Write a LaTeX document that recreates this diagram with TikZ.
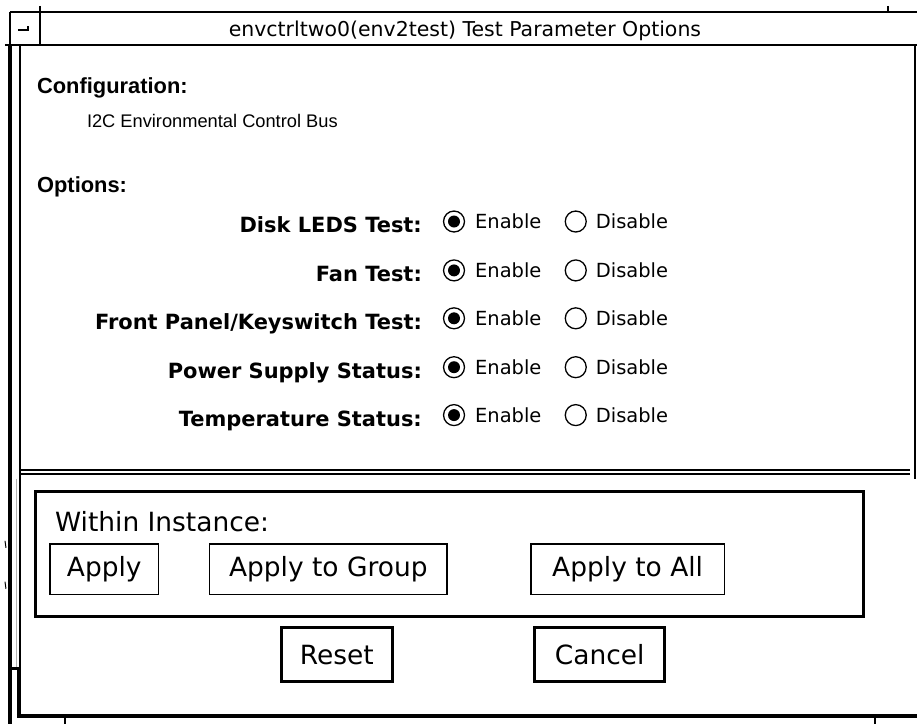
\documentclass[tikz,border=0pt]{standalone}
\usepackage{fontspec}
\setmainfont{DejaVu Sans}
\newfontfamily\headfont{Liberation Sans}
\usetikzlibrary{positioning}

\begin{document}
\begin{tikzpicture}[
    x=1pt, y=-1pt,
    frame/.style={draw=black, line width=1.5pt},
    thickframe/.style={draw=black, line width=3.5pt},
    titletext/.style={anchor=base, inner sep=0pt, font=\fontsize{20.5}{24}\selectfont},
    heading/.style={anchor=base west, inner sep=0pt, font=\headfont\bfseries\fontsize{21.9}{26}\selectfont},
    info/.style={anchor=base west, inner sep=0pt, font=\headfont\fontsize{18.3}{22}\selectfont},
    optlabel/.style={anchor=base east, inner sep=0pt, font=\bfseries\fontsize{21}{25}\selectfont},
    choice/.style={anchor=base west, inner sep=0pt, font=\fontsize{19.5}{23}\selectfont},
    radio/.style={circle, draw=black, line width=1.3pt, fill=white,
        minimum size=21pt, inner sep=0pt},
    radioon/.style={radio, path picture={
        \fill[black] (path picture bounding box.center) circle (6pt);}},
    button/.style={draw=black, line width=1.5pt, inner sep=0pt,
        minimum height=51pt, font=\fontsize{26.5}{30}\selectfont},
    bigbutton/.style={button, line width=3pt, minimum height=54pt}
]
    % page
    \fill[white] (0,0) rectangle (919,726);

    % title bar
    \draw[frame] (10,12) -- (919,12);
    \draw[frame] (10,12) -- (10,45);
    \draw[frame] (40,6) -- (40,45);
    \draw[frame] (890,6) -- (890,12);
    \draw[line width=2.5pt] (5,45) -- (919,45);
    \draw[line width=2pt] (18,30) -- (28,30) -- (28,26);
    \node[titletext] (title) at (466,37) {envctrltwo0(env2test) Test Parameter Options};

    % window border
    \draw[line width=4pt] (10,45) -- (10,726);
    \draw[frame] (20,45) -- (20,670);
    \draw[gray!60, line width=1pt] (16.5,480) -- (16.5,670);
    \draw[line width=3pt] (10,670) -- (21,670);
    \draw[line width=4pt] (19,668) -- (19,720);
    \draw[line width=4pt] (17,718) -- (919,718);
    \draw[frame] (917,45) -- (917,480);
    \draw[frame] (65,718) -- (65,726);
    \draw[frame] (877,718) -- (877,726);
    \draw[line width=1pt] (5,542) -- (6,549);
    \draw[line width=1pt] (5,583) -- (6,590);

    % configuration
    \node[heading] (config) at (37,94) {Configuration:};
    \node[info] (bus) at (87,128) {I2C Environmental Control Bus};
    \node[heading] (options) at (37,193) {Options:};

    % option rows
    \node[optlabel] (disk) at (423,233) {Disk LEDS Test:};
    \node[radioon] (diskon) at (455,222) {};
    \node[choice] (diskenable) at (476,229) {Enable};
    \node[radio] (diskoff) at (577,222) {};
    \node[choice] (diskdisable) at (597,229) {Disable};

    \node[optlabel] (fan) at (423,282) {Fan Test:};
    \node[radioon] (fanon) at (455,271) {};
    \node[choice] (fanenable) at (476,278) {Enable};
    \node[radio] (fanoff) at (577,271) {};
    \node[choice] (fandisable) at (597,278) {Disable};

    \node[optlabel] (panel) at (423,330) {Front Panel/Keyswitch Test:};
    \node[radioon] (panelon) at (455,319) {};
    \node[choice] (panelenable) at (476,326) {Enable};
    \node[radio] (paneloff) at (577,319) {};
    \node[choice] (paneldisable) at (597,326) {Disable};

    \node[optlabel] (power) at (423,379) {Power Supply Status:};
    \node[radioon] (poweron) at (455,368) {};
    \node[choice] (powerenable) at (476,375) {Enable};
    \node[radio] (poweroff) at (577,368) {};
    \node[choice] (powerdisable) at (597,375) {Disable};

    \node[optlabel] (temp) at (423,427) {Temperature Status:};
    \node[radioon] (tempon) at (455,416) {};
    \node[choice] (tempenable) at (476,423) {Enable};
    \node[radio] (tempoff) at (577,416) {};
    \node[choice] (tempdisable) at (597,423) {Disable};

    % separator
    \draw[frame] (20,471) -- (912,471);
    \draw[frame] (20,475) -- (912,475);

    % instance box
    \draw[line width=3pt] (36,493) rectangle (865,618);
    \node[anchor=base west, inner sep=0pt, font=\fontsize{26.5}{30}\selectfont]
        (within) at (55,533) {Within Instance:};
    \node[button, minimum width=109pt] (apply) at (104.5,570.5) {Apply};
    \node[button, minimum width=238pt] (group) at (329,570.5) {Apply to Group};
    \node[button, minimum width=194pt] (all) at (629,570.5) {Apply to All};

    % bottom buttons
    \node[bigbutton, minimum width=111pt] (reset) at (337.5,656) {Reset};
    \node[bigbutton, minimum width=130pt] (cancel) at (601,656) {Cancel};
\end{tikzpicture}
\end{document}
